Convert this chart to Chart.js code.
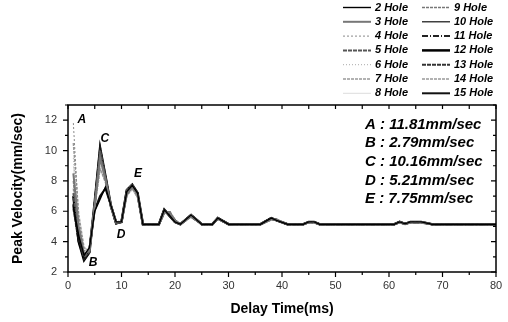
<!DOCTYPE html>
<html><head><meta charset="utf-8">
<script src="https://cdn.jsdelivr.net/npm/chart.js@4.4.1/dist/chart.umd.min.js"></script>
<style>html,body{margin:0;padding:0;background:#fff;}</style>
</head><body>
<canvas id="c" width="508" height="322" style="width:508px;height:322px;display:block"></canvas>
<script>
// ---- data ----
const delayHead = [1, 2, 3, 4, 5, 6, 7, 8, 9, 10, 11, 12, 13];
const delayTail = [14, 17, 18, 19, 20, 21, 23, 25, 27, 28, 30, 36, 38, 39, 41, 44, 45, 46, 47, 61, 62, 63, 64, 66, 68, 80];
const tailMain = [5.15, 5.15, 6.1, 5.7, 5.3, 5.15, 5.75, 5.15, 5.15, 5.55, 5.15, 5.15, 5.55, 5.4, 5.15, 5.15, 5.3, 5.3, 5.15, 5.15, 5.3, 5.17, 5.3, 5.3, 5.15, 5.15];
const tailAlt  = [5.15, 5.15, 5.9, 5.95, 5.4, 5.15, 5.65, 5.15, 5.15, 5.5, 5.15, 5.15, 5.45, 5.45, 5.15, 5.15, 5.25, 5.25, 5.15, 5.15, 5.25, 5.17, 5.25, 5.25, 5.15, 5.15];

const hole2  = [6.3, 4.4, 3.1, 3.6, 6.0, 6.8, 7.6, 6.4, 5.3, 5.3, 7.3, 7.7, 7.2];
const hole3  = [8.5, 5.0, 3.2, 3.4, 6.4, 9.5, 8.1, 6.4, 5.3, 5.3, 7.1, 7.6, 7.1];
const hole4  = [11.81, 5.5, 3.4, 3.5, 6.3, 8.8, 8.0, 6.3, 5.3, 5.4, 7.2, 7.5, 7.0];
const hole5  = [7.2, 4.6, 3.0, 3.3, 6.5, 10.0, 8.2, 6.4, 5.2, 5.3, 7.4, 7.75, 7.2];
const hole6  = [9.5, 5.2, 3.5, 3.6, 6.3, 9.0, 8.0, 6.3, 5.3, 5.3, 7.0, 7.4, 6.9];
const hole7  = [10.5, 5.8, 3.6, 3.4, 6.2, 8.8, 7.9, 6.3, 5.3, 5.3, 7.0, 7.5, 6.9];
const hole8  = [9.0, 5.0, 3.3, 3.5, 6.4, 9.3, 8.1, 6.3, 5.3, 5.3, 7.2, 7.6, 7.0];
const hole9  = [8.0, 4.8, 3.1, 3.4, 6.5, 9.8, 8.2, 6.3, 5.2, 5.3, 7.3, 7.7, 7.1];
const hole10 = [6.8, 4.2, 2.9, 3.3, 6.6, 10.1, 8.2, 6.4, 5.21, 5.3, 7.4, 7.75, 7.2];
const hole11 = [6.5, 4.1, 2.85, 3.3, 6.6, 10.16, 8.3, 6.4, 5.2, 5.3, 7.4, 7.7, 7.2];
const hole12 = [7.0, 4.0, 2.79, 3.3, 6.6, 10.16, 8.3, 6.4, 5.21, 5.3, 7.4, 7.75, 7.2];
const hole13 = [6.2, 4.0, 2.9, 3.4, 6.5, 10.0, 8.2, 6.3, 5.2, 5.3, 7.3, 7.7, 7.1];
const hole14 = [7.5, 4.5, 3.0, 3.4, 6.4, 9.6, 8.1, 6.3, 5.3, 5.3, 7.2, 7.6, 7.0];
const hole15 = [6.4, 4.3, 3.0, 3.5, 6.1, 7.0, 7.5, 6.4, 5.3, 5.3, 7.3, 7.7, 7.1];

const holeLabels = ['2 Hole','3 Hole','4 Hole','5 Hole','6 Hole','7 Hole','8 Hole',
                    '9 Hole','10 Hole','11 Hole','12 Hole','13 Hole','14 Hole','15 Hole'];
const peakLetters = ['A','B','C','D','E'];
const peakLetterX = [2.6, 4.7, 6.9, 9.9, 13.1];
const peakLetterY = [12.0, 2.62, 10.8, 4.47, 8.45];
const peakNotes = ['A : 11.81mm/sec','B : 2.79mm/sec','C : 10.16mm/sec','D : 5.21mm/sec','E : 7.75mm/sec'];

// ---- styles ----
const heads = [hole2,hole3,hole4,hole5,hole6,hole7,hole8,hole9,hole10,hole11,hole12,hole13,hole14,hole15];
const tails = [tailMain,tailAlt,tailMain,tailMain,tailAlt,tailMain,tailAlt,tailMain,tailMain,tailAlt,tailMain,tailMain,tailAlt,tailMain];
const styles = [
  {c:'#000', w:1.4, d:[]},
  {c:'#777', w:2, d:[]},
  {c:'#888', w:1, d:[2,2]},
  {c:'#555', w:2, d:[4,1]},
  {c:'#aaa', w:1, d:[1,2]},
  {c:'#999', w:1.5, d:[3,1]},
  {c:'#ddd', w:1, d:[]},
  {c:'#777', w:1.5, d:[3,1]},
  {c:'#111', w:1.2, d:[]},
  {c:'#222', w:2, d:[6,2,1,2]},
  {c:'#000', w:2.5, d:[]},
  {c:'#333', w:2, d:[4,1]},
  {c:'#999', w:1.5, d:[3,1]},
  {c:'#111', w:2, d:[]}
];
const FONT = "'Liberation Sans', Arial, sans-serif";

const datasets = holeLabels.map((lab, i) => {
  const xs = delayHead.concat(delayTail);
  const ys = heads[i].concat(tails[i]);
  return {
    label: lab,
    data: xs.map((x, k) => ({x: x, y: ys[k]})),
    borderColor: styles[i].c,
    borderWidth: styles[i].w,
    borderDash: styles[i].d,
    pointRadius: 0,
    tension: 0,
    fill: false
  };
});

const decor = {
  id: 'decor',
  afterDraw(chart) {
    const ctx = chart.ctx;
    const a = chart.chartArea;
    const xs = chart.scales.x, ys = chart.scales.y;
    ctx.save();
    // frame
    ctx.strokeStyle = '#000';
    ctx.lineWidth = 1.5;
    ctx.strokeRect(a.left, a.top, a.right - a.left, a.bottom - a.top);
    ctx.lineWidth = 1.2;
    // y ticks
    for (let v = 2; v <= 13; v++) {
      const p = ys.getPixelForValue(v);
      const len = v % 2 === 0 ? 5 : 3;
      ctx.beginPath();
      ctx.moveTo(a.left - len, p); ctx.lineTo(a.left, p);
      ctx.moveTo(a.right, p); ctx.lineTo(a.right - len, p);
      ctx.stroke();
    }
    // x ticks
    for (let v = 0; v <= 80; v += 5) {
      const p = xs.getPixelForValue(v);
      const len = v % 10 === 0 ? 5 : 3;
      ctx.beginPath();
      ctx.moveTo(p, a.bottom); ctx.lineTo(p, a.bottom + len);
      ctx.moveTo(p, a.top); ctx.lineTo(p, a.top + 4);
      ctx.stroke();
    }
    // letters on the curve
    ctx.fillStyle = '#000';
    ctx.font = 'italic bold 12px ' + FONT;
    ctx.textAlign = 'center';
    ctx.textBaseline = 'middle';
    peakLetters.forEach((t, i) => {
      ctx.fillText(t, xs.getPixelForValue(peakLetterX[i]), ys.getPixelForValue(peakLetterY[i]));
    });
    // notes box
    ctx.font = 'italic bold 15px ' + FONT;
    ctx.textAlign = 'left';
    peakNotes.forEach((t, i) => {
      ctx.fillText(t, 365, 124.5 + i * 18.7);
    });
    // legend
    ctx.font = 'italic bold 11px ' + FONT;
    chart.data.datasets.forEach((ds, i) => {
      const col = i < 7 ? 0 : 1;
      const row = i % 7;
      const x0 = col === 0 ? 343 : 422;
      const y = 7.5 + row * 14.3;
      ctx.strokeStyle = ds.borderColor;
      ctx.lineWidth = ds.borderWidth;
      ctx.setLineDash(ds.borderDash);
      ctx.beginPath(); ctx.moveTo(x0, y); ctx.lineTo(x0 + 28, y); ctx.stroke();
      ctx.setLineDash([]);
      ctx.fillStyle = '#000';
      ctx.fillText(ds.label, x0 + 32, y);
    });
    ctx.restore();
  }
};

new Chart(document.getElementById('c'), {
  type: 'line',
  data: { datasets: datasets },
  options: {
    responsive: false,
    animation: false,
    devicePixelRatio: 1,
    layout: { padding: { top: 105, right: 12, left: 0, bottom: 0 } },
    plugins: { legend: { display: false }, tooltip: { enabled: false } },
    scales: {
      x: {
        type: 'linear', min: 0, max: 80,
        ticks: { stepSize: 10, color: '#333', font: { family: FONT, size: 11 }, padding: 2, maxRotation: 0 },
        grid: { display: true, drawOnChartArea: false, tickLength: 5, color: 'transparent' },
        border: { display: false },
        title: { display: true, text: 'Delay Time(ms)', color: '#000', font: { family: FONT, size: 14, weight: 'bold' }, padding: { top: 0, bottom: 4 } },
        afterFit(s) { s.height = 50; }
      },
      y: {
        type: 'linear', min: 2, max: 13,
        ticks: { stepSize: 2, includeBounds: false, color: '#333', font: { family: FONT, size: 11 }, padding: 6,
                 callback: v => (v % 2 === 0 ? v : '') },
        grid: { display: true, drawOnChartArea: false, tickLength: 5, color: 'transparent' },
        border: { display: false },
        title: { display: true, text: 'Peak Velocity(mm/sec)', color: '#000', font: { family: FONT, size: 14, weight: 'bold' }, padding: { top: 10, bottom: 0 } },
        afterFit(s) { s.width = 68; }
      }
    }
  },
  plugins: [decor]
});
</script>
</body></html>
